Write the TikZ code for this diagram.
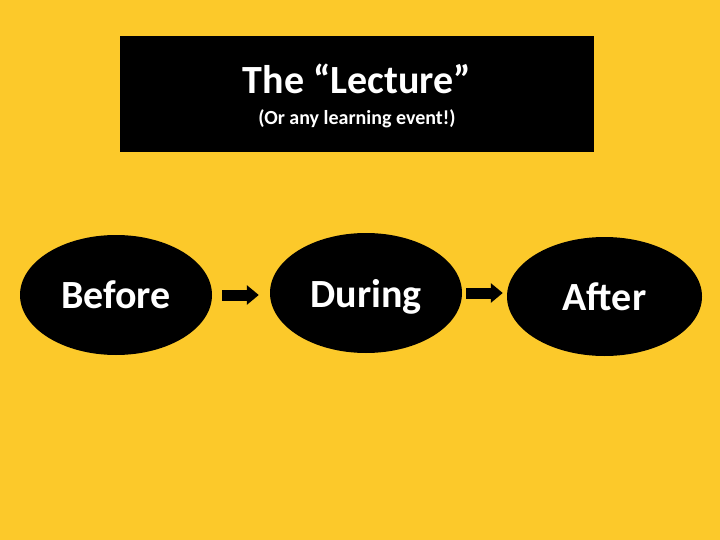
\documentclass[tikz,border=0pt]{standalone}
\usepackage{fontspec}
\setmainfont{Carlito}
\usepackage{xcolor}
\usepackage{tikz}
\usetikzlibrary{arrows.meta,shapes.geometric}
\definecolor{bgyellow}{HTML}{FCC92A}

\begin{document}
\begin{tikzpicture}[x=1pt,y=-1pt,
  blob/.style={ellipse,fill=black,text=white,inner sep=0pt,minimum width=192pt,minimum height=120pt,text depth=0pt,font=\fontsize{40}{48}\selectfont\bfseries},
  blockarrow/.style={line width=11pt,-{Triangle[width=19pt,length=12pt]}}]
\fill[bgyellow] (0,0) rectangle (720,540);
\useasboundingbox (0,0) rectangle (720,540);
\node[fill=black,minimum width=474pt,minimum height=116pt,inner sep=0pt] (lecture) at (357,94) {};
\node[text=white,anchor=base,font=\fontsize{40}{48}\selectfont\bfseries] (title) at (357,94) {The “Lecture”};
\node[text=white,anchor=base,font=\fontsize{20}{24}\selectfont\bfseries] (subtitle) at (357,125) {(Or any learning event!)};
\node[blob] (before) at (116,295) {Before};
\node[blob] (during) at (366,293) {During};
\node[blob,minimum width=195pt,minimum height=119pt] (after) at (604.5,296.5) {After};
\draw[blockarrow,shorten <=10pt,shorten >=11pt] (before.east) -- (before.east -| during.west);
\draw[blockarrow,shorten <=4pt,shorten >=4pt] (during.east) -- (during.east -| after.west);
\end{tikzpicture}
\end{document}
